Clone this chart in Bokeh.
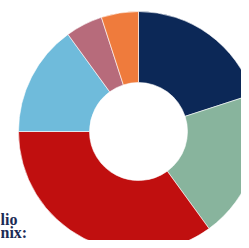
import math
from bokeh.plotting import figure
from bokeh.models import Range1d, ColumnDataSource
from bokeh.core.properties import value
from bokeh.embed import file_html
from bokeh.resources import INLINE

# Data
categories = ["Navy", "Green", "Red", "Light blue", "Mauve", "Orange"]
shares = [20, 20, 35, 15, 5, 5]
colors = ["#0c2857", "#88b49d", "#c00f0f", "#6fbbdb", "#b76b7b", "#ef7b3c"]
label_lines = ["lio", "nix:"]

total = float(sum(shares))
starts, ends = [], []
cum = 0.0
for s in shares:
    starts.append(math.pi / 2 - 2 * math.pi * cum / total)
    cum += s
    ends.append(math.pi / 2 - 2 * math.pi * cum / total)

src = ColumnDataSource(dict(cat=categories, share=shares, color=colors,
                            start=starts, end=ends,
                            x=[138] * len(shares), y=[-131] * len(shares)))

p = figure(width=241, height=240, output_backend="svg", toolbar_location=None,
           x_range=Range1d(0, 241), y_range=Range1d(-240, 0),
           min_border=0, outline_line_color=None)
p.axis.visible = False
p.grid.visible = False
p.background_fill_color = "white"
p.border_fill_color = "white"

p.annular_wedge(x="x", y="y", inner_radius=49, outer_radius=120,
                start_angle="start", end_angle="end", direction="clock",
                color="color", line_color="white", line_width=0.6, source=src)

p.text(x=[0, 0], y=[-219, -232], text=label_lines,
       text_font=value("Liberation Serif"), text_font_style="bold",
       text_font_size="16px", text_color="#1b2a55",
       text_align="left", text_baseline="alphabetic")

open("out.html", "w").write(file_html(p, INLINE))
